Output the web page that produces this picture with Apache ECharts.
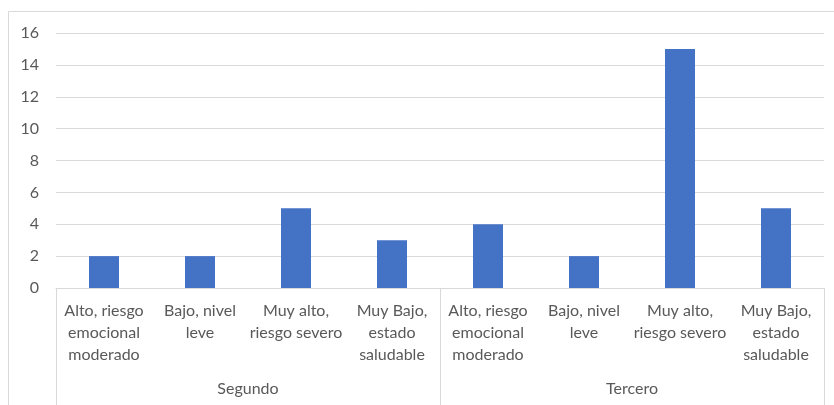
<!DOCTYPE html>
<html>
<head>
<meta charset="utf-8">
<script src="https://cdn.jsdelivr.net/npm/echarts@6/dist/echarts.min.js"></script>
<style>html,body{margin:0;padding:0;background:#fff;}#c{width:834px;height:405px;}</style>
</head>
<body>
<div id="c"></div>
<script>
const groups = ['Segundo', 'Tercero'];
const levels = ['Alto, riesgo\nemocional\nmoderado', 'Bajo, nivel\nleve', 'Muy alto,\nriesgo severo', 'Muy Bajo,\nestado\nsaludable'];
const segundoValues = [2, 2, 5, 3];
const terceroValues = [4, 2, 15, 5];
const yTicks = { min: 0, max: 16, interval: 2 };

const categories = [];
groups.forEach(() => levels.forEach(l => categories.push(l)));
const values = segundoValues.concat(terceroValues);

const font = 'Lato, "Liberation Sans", sans-serif';
const txt = '#595959';
const lineC = '#d9d9d9';

const chart = echarts.init(document.getElementById('c'), null, { renderer: 'canvas' });
chart.setOption({
  animation: false,
  backgroundColor: '#fff',
  graphic: [{
    type: 'rect', silent: true,
    shape: { x: 8.5, y: 11.5, width: 840, height: 420 },
    style: { fill: 'none', stroke: lineC, lineWidth: 1 }
  }],
  grid: { left: 56, right: 10, top: 33, bottom: 117 },
  xAxis: [{
    type: 'category',
    data: categories,
    position: 'bottom',
    axisLine: { show: true, lineStyle: { color: lineC } },
    axisTick: { show: false },
    axisLabel: { interval: 0, color: txt, fontFamily: font, fontSize: 16, lineHeight: 22, margin: 12, align: 'center' }
  }, {
    type: 'category',
    data: groups,
    position: 'bottom',
    axisLine: { show: false },
    axisTick: { show: true, length: 125, lineStyle: { color: lineC } },
    axisLabel: { color: txt, fontFamily: font, fontSize: 16, lineHeight: 22, margin: 90 }
  }],
  yAxis: {
    type: 'value',
    min: yTicks.min, max: yTicks.max, interval: yTicks.interval,
    axisLine: { show: false },
    axisTick: { show: false },
    axisLabel: { color: txt, fontFamily: font, fontSize: 16, margin: 17 },
    splitLine: { lineStyle: { color: lineC } }
  },
  series: [{
    type: 'bar',
    xAxisIndex: 0,
    data: values,
    barWidth: 30,
    itemStyle: { color: '#4472C4' }
  }]
});
</script>
</body>
</html>
